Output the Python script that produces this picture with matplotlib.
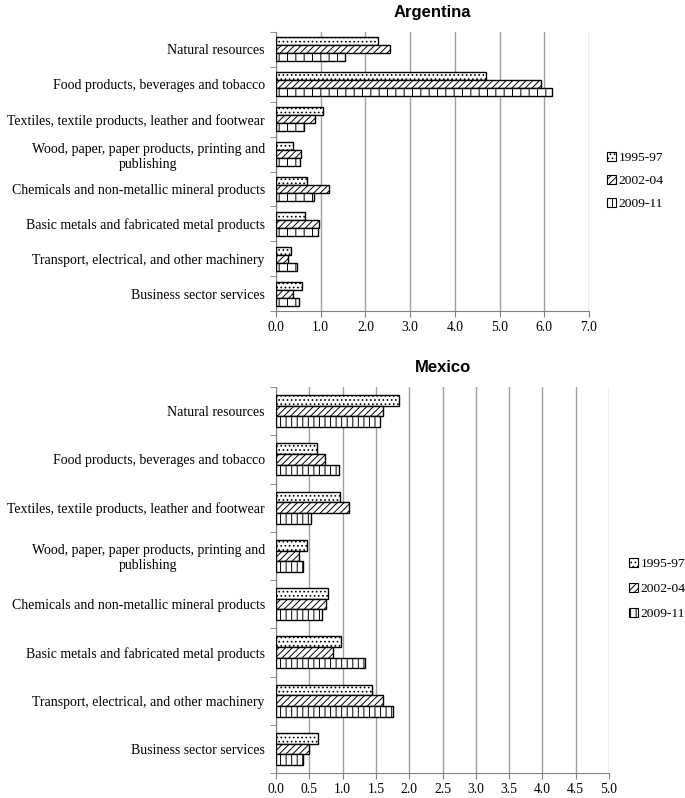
import matplotlib
matplotlib.use("Agg")
import matplotlib.pyplot as plt
import numpy as np
from matplotlib.patches import Patch

categories = [
    "Natural resources",
    "Food products, beverages and tobacco",
    "Textiles, textile products, leather and footwear",
    "Wood, paper, paper products, printing and\npublishing",
    "Chemicals and non-metallic mineral products",
    "Basic metals and fabricated metal products",
    "Transport, electrical, and other machinery",
    "Business sector services",
]
series = ["1995-97", "2002-04", "2009-11"]

arg_1995 = [2.27, 4.70, 1.06, 0.39, 0.69, 0.64, 0.33, 0.59]
arg_2002 = [2.55, 5.93, 0.88, 0.56, 1.19, 0.96, 0.27, 0.39]
arg_2009 = [1.54, 6.18, 0.63, 0.54, 0.84, 0.93, 0.47, 0.51]

mex_1995 = [1.85, 0.61, 0.96, 0.46, 0.78, 0.97, 1.44, 0.63]
mex_2002 = [1.60, 0.73, 1.10, 0.35, 0.75, 0.86, 1.60, 0.50]
mex_2009 = [1.56, 0.94, 0.52, 0.40, 0.69, 1.33, 1.76, 0.40]

arg_ticks = [0.0, 1.0, 2.0, 3.0, 4.0, 5.0, 6.0, 7.0]
mex_ticks = [0.0, 0.5, 1.0, 1.5, 2.0, 2.5, 3.0, 3.5, 4.0, 4.5, 5.0]

plt.rcParams["hatch.linewidth"] = 0.7
serif = ["Liberation Serif", "DejaVu Serif"]
W, H = 685, 798
fig = plt.figure(figsize=(W / 100, H / 100), dpi=100)


def panel(rect, title, data, ticks, bh, legend_pos, tpad, hatches, lspace):
    ax = fig.add_axes(rect)
    y = np.arange(len(categories))
    for k, (vals, h) in enumerate(zip(data, hatches)):
        ax.barh(y + (k - 1) * bh, vals, height=bh, color="white",
                edgecolor="black", linewidth=1.0, hatch=h, label=series[k], zorder=3)
    ax.set_ylim(len(categories) - 0.5, -0.5)
    ax.set_xlim(0, ticks[-1])
    ax.set_xticks(ticks)
    ax.set_xticklabels([f"{t:.1f}" for t in ticks], fontfamily=serif, fontsize=9.8)
    ax.set_yticks(y)
    ax.set_yticklabels(categories, fontfamily=serif, fontsize=10, multialignment="center")
    ax.set_yticks(np.arange(len(categories) + 1) - 0.5, minor=True)
    ax.tick_params(axis="y", which="major", length=0, pad=8)
    ax.tick_params(axis="y", which="minor", length=4, direction="out", color="#808080")
    ax.tick_params(axis="x", length=4, direction="out", color="#808080", pad=3)
    ax.grid(axis="x", color="#a0a0a0", linewidth=1.0, zorder=0)
    for s in ["top", "right"]:
        ax.spines[s].set_visible(False)
    ax.spines["left"].set_color("#808080")
    ax.spines["bottom"].set_color("#808080")
    ax.set_title(title, fontfamily=["Liberation Sans", "DejaVu Sans"], fontweight="bold",
                 fontsize=12, pad=tpad)
    handles = [Patch(facecolor="white", edgecolor="black", hatch=h, linewidth=0.8, label=s)
               for h, s in zip(hatches, series)]
    ax.legend(handles=handles, loc="center left", bbox_to_anchor=legend_pos,
              bbox_transform=fig.transFigure, frameon=False, handlelength=0.65,
              handleheight=0.65, handletextpad=0.2, labelspacing=lspace,
              prop={"family": serif, "size": 9.7})
    return ax


panel([276 / W, 1 - 311 / H, (589 - 276) / W, (311 - 32) / H], "Argentina",
      [arg_1995, arg_2002, arg_2009], arg_ticks, 0.23, (595 / W, 1 - 181 / H), 11,
      ["....", "/////", "||"], 0.8)
panel([276 / W, 1 - 773 / H, (609 - 276) / W, (773 - 387) / H], "Mexico",
      [mex_1995, mex_2002, mex_2009], mex_ticks, 0.22, (617 / W, 1 - 589 / H), 10.5,
      ["....", "/////", "|||"], 0.95)

fig.savefig("out.png", dpi=100)
